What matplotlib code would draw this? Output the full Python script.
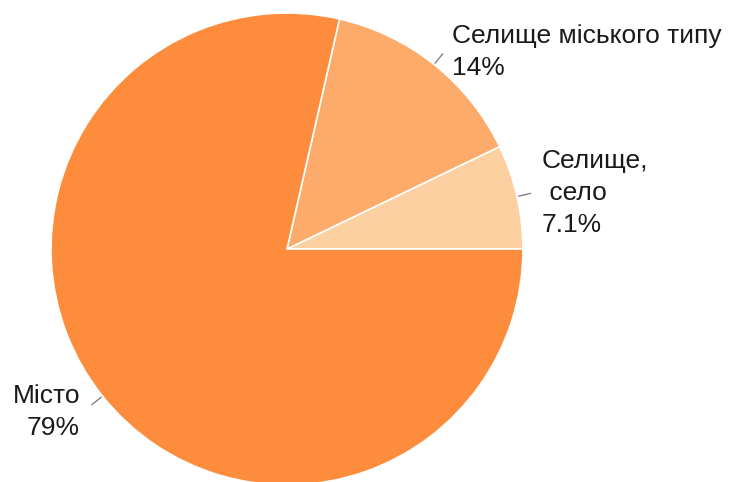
import numpy as np
import matplotlib
matplotlib.use("Agg")
import matplotlib.pyplot as plt

categories = ["Селище,\n село", "Селище міського типу", "Місто"]
values = [1, 2, 11]
pct_labels = ["7.1%", "14%", "79%"]
colors = ["#FDD0A2", "#FDAB6A", "#FD8D3C"]

W, H = 736, 482
fig = plt.figure(figsize=(W / 100, H / 100), dpi=100)
ax = fig.add_axes([0, 0, 1, 1])

cx, cy, R = 287, H - 249, 236
wedges, _ = ax.pie(values, colors=colors, startangle=0, counterclock=True,
                   center=(cx, cy), radius=R, frame=True,
                   wedgeprops=dict(edgecolor="white", linewidth=1.2))
ax.set_xlim(0, W)
ax.set_ylim(0, H)
ax.set_aspect("equal")
ax.axis("off")

# leader lines
for w in wedges:
    a = np.deg2rad((w.theta1 + w.theta2) / 2)
    ax.plot([cx + R * 1.005 * np.cos(a), cx + R * 1.06 * np.cos(a)],
            [cy + R * 1.005 * np.sin(a), cy + R * 1.06 * np.sin(a)],
            color="#777777", lw=0.9, solid_capstyle="butt")

font = dict(family=["Liberation Sans", "DejaVu Sans"], fontsize=19, color="#1a1a1a")
step = 32
# (x, first baseline from top, ha)
label_pos = [(542, 168, "left"), (452, 43, "left"), (80, 403, "right")]
for cat, pct, (x, yb, ha) in zip(categories, pct_labels, label_pos):
    lines = cat.split("\n") + [pct]
    for i, ln in enumerate(lines):
        ax.text(x, H - (yb + i * step), ln, ha=ha, va="baseline", **font)

fig.savefig("out.png", dpi=100)
